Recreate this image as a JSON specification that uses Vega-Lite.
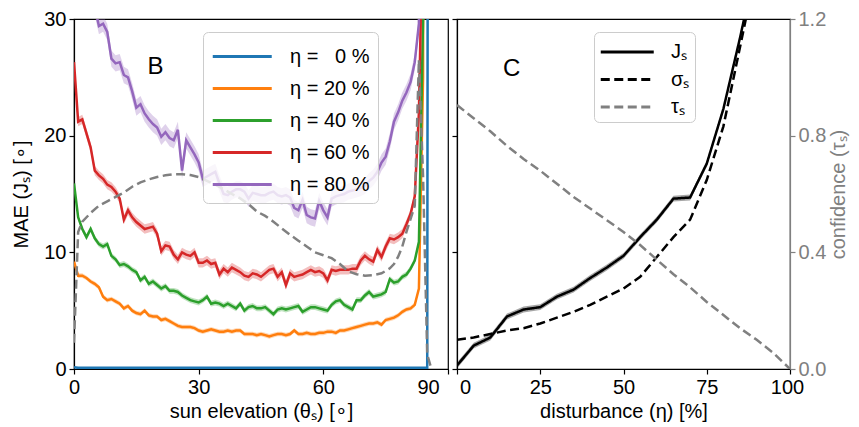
{
  "$schema": "https://vega.github.io/schema/vega-lite/v6.json",
  "padding": {"left": 11, "top": 8, "right": 5, "bottom": 5},
  "config": {
    "font": "Liberation Sans",
    "view": {"stroke": "black", "strokeWidth": 1.2},
    "axis": {"labelFontSize": 20, "titleFontSize": 20, "titleFontWeight": "normal", "labelColor": "black", "titleColor": "black", "tickColor": "black", "domainColor": "black", "tickSize": 5, "grid": false, "labelPadding": 3, "domainWidth": 1.2, "tickWidth": 1.2, "labelFont": "Liberation Sans", "titleFont": "Liberation Sans", "labelFlush": false},
    "legend": {"labelFont": "Liberation Sans"}
  },
  "datasets": {
    "err": [{"k":"b","d":0.05},{"k":"o","d":0.2},{"k":"g","d":0.25},{"k":"r","d":0.4},{"k":"p","d":0.7},{"k":"J","d":0.25}],
    "B": [
      {"t":0,"b":0.15,"o":9.2,"g":15.9,"r":26.3,"p":45},
      {"t":1,"b":0.1,"o":8.0,"g":13.0,"r":21.2,"p":42},
      {"t":2,"b":0.1,"o":8.0,"g":12.0,"r":21.4,"p":39},
      {"t":3,"b":0.1,"o":7.8,"g":11.3,"r":20.2,"p":36},
      {"t":4,"b":0.1,"o":7.5,"g":12.0,"r":19.0,"p":33.5},
      {"t":5,"b":0.1,"o":7.3,"g":11.2,"r":17.0,"p":31},
      {"t":6,"b":0.1,"o":7.0,"g":10.7,"r":16.6,"p":29.4},
      {"t":7,"b":0.1,"o":6.2,"g":10.5,"r":16.3,"p":29.6},
      {"t":8,"b":0.1,"o":5.9,"g":10.7,"r":15.8,"p":28.9},
      {"t":9,"b":0.1,"o":6.0,"g":9.7,"r":15.6,"p":26.6},
      {"t":10,"b":0.1,"o":5.8,"g":9.4,"r":15.2,"p":26.2},
      {"t":11,"b":0.1,"o":5.6,"g":8.9,"r":14.6,"p":26.3},
      {"t":12,"b":0.1,"o":5.2,"g":9.0,"r":12.8,"p":25.2},
      {"t":13,"b":0.1,"o":5.4,"g":8.8,"r":13.6,"p":25.0},
      {"t":14,"b":0.1,"o":5.0,"g":8.5,"r":13.0,"p":23.8},
      {"t":15,"b":0.1,"o":4.8,"g":8.3,"r":12.6,"p":22.4},
      {"t":16,"b":0.1,"o":4.7,"g":7.6,"r":12.3,"p":22.7},
      {"t":17,"b":0.1,"o":5.0,"g":7.9,"r":12.0,"p":21.9},
      {"t":18,"b":0.1,"o":4.6,"g":7.3,"r":12.1,"p":21.4},
      {"t":19,"b":0.1,"o":4.5,"g":7.5,"r":12.2,"p":21.0},
      {"t":20,"b":0.1,"o":4.5,"g":7.2,"r":11.6,"p":20.7},
      {"t":21,"b":0.1,"o":4.2,"g":6.9,"r":10.1,"p":19.9},
      {"t":22,"b":0.1,"o":4.3,"g":7.1,"r":10.6,"p":20.3},
      {"t":23,"b":0.1,"o":4.1,"g":6.7,"r":10.5,"p":19.8},
      {"t":24,"b":0.1,"o":3.9,"g":6.7,"r":9.8,"p":19.6},
      {"t":25,"b":0.1,"o":3.7,"g":6.6,"r":9.4,"p":20.5},
      {"t":26,"b":0.1,"o":3.6,"g":6.3,"r":10.0,"p":17.0},
      {"t":27,"b":0.1,"o":3.6,"g":6.1,"r":9.8,"p":19.6},
      {"t":28,"b":0.1,"o":3.6,"g":5.9,"r":9.7,"p":19.0},
      {"t":29,"b":0.1,"o":3.5,"g":5.8,"r":10.0,"p":18.4},
      {"t":30,"b":0.1,"o":3.3,"g":5.7,"r":9.1,"p":17.7},
      {"t":31,"b":0.1,"o":3.2,"g":5.9,"r":9.1,"p":16.3},
      {"t":32,"b":0.1,"o":3.3,"g":6.2,"r":9.3,"p":16.5},
      {"t":33,"b":0.1,"o":3.4,"g":5.6,"r":9.0,"p":16.7},
      {"t":34,"b":0.1,"o":3.3,"g":5.7,"r":9.1,"p":16.9},
      {"t":35,"b":0.1,"o":3.2,"g":5.6,"r":8.1,"p":15.9},
      {"t":36,"b":0.1,"o":3.2,"g":5.4,"r":8.6,"p":15.0},
      {"t":37,"b":0.1,"o":3.3,"g":5.6,"r":8.3,"p":14.9},
      {"t":38,"b":0.1,"o":3.2,"g":5.4,"r":8.7,"p":15.2},
      {"t":39,"b":0.1,"o":3.3,"g":5.2,"r":8.5,"p":15.4},
      {"t":40,"b":0.1,"o":3.3,"g":5.6,"r":8.3,"p":15.4},
      {"t":41,"b":0.1,"o":3.0,"g":5.0,"r":8.0,"p":15.2},
      {"t":42,"b":0.1,"o":3.0,"g":5.3,"r":7.9,"p":14.6},
      {"t":43,"b":0.1,"o":3.0,"g":5.4,"r":8.2,"p":15.1},
      {"t":44,"b":0.1,"o":2.9,"g":5.2,"r":8.1,"p":15.0},
      {"t":45,"b":0.1,"o":3.0,"g":5.2,"r":7.9,"p":14.9},
      {"t":46,"b":0.1,"o":2.9,"g":5.3,"r":8.2,"p":14.9},
      {"t":47,"b":0.1,"o":2.8,"g":5.0,"r":8.5,"p":15.1},
      {"t":48,"b":0.1,"o":2.9,"g":4.7,"r":8.6,"p":15.2},
      {"t":49,"b":0.1,"o":3.0,"g":5.1,"r":7.9,"p":14.9},
      {"t":50,"b":0.1,"o":3.0,"g":5.2,"r":8.3,"p":14.8},
      {"t":51,"b":0.1,"o":2.9,"g":5.1,"r":7.2,"p":14.9},
      {"t":52,"b":0.1,"o":3.0,"g":5.2,"r":8.2,"p":14.7},
      {"t":53,"b":0.1,"o":3.3,"g":5.3,"r":7.9,"p":13.8},
      {"t":54,"b":0.1,"o":3.0,"g":5.4,"r":8.0,"p":13.6},
      {"t":55,"b":0.1,"o":3.0,"g":4.9,"r":8.1,"p":14.5},
      {"t":56,"b":0.1,"o":3.1,"g":5.1,"r":8.3,"p":13.2},
      {"t":57,"b":0.1,"o":3.0,"g":5.3,"r":8.5,"p":13.0},
      {"t":58,"b":0.1,"o":3.0,"g":5.3,"r":8.3,"p":12.9},
      {"t":59,"b":0.1,"o":3.1,"g":5.2,"r":8.4,"p":14.4},
      {"t":60,"b":0.1,"o":3.1,"g":5.1,"r":8.2,"p":13.6},
      {"t":61,"b":0.1,"o":3.2,"g":5.0,"r":7.6,"p":13.0},
      {"t":62,"b":0.1,"o":3.2,"g":5.5,"r":8.5,"p":14.6},
      {"t":63,"b":0.1,"o":3.1,"g":5.8,"r":8.4,"p":14.8},
      {"t":64,"b":0.1,"o":3.3,"g":5.9,"r":8.5,"p":14.9},
      {"t":65,"b":0.1,"o":3.3,"g":5.5,"r":8.5,"p":15.0},
      {"t":66,"b":0.1,"o":3.4,"g":5.3,"r":8.5,"p":15.2},
      {"t":67,"b":0.1,"o":3.5,"g":5.1,"r":8.6,"p":15.3},
      {"t":68,"b":0.1,"o":3.6,"g":5.9,"r":8.6,"p":15.4},
      {"t":69,"b":0.1,"o":3.7,"g":5.9,"r":9.3,"p":15.5},
      {"t":70,"b":0.1,"o":3.8,"g":6.3,"r":9.7,"p":15.7},
      {"t":71,"b":0.1,"o":3.9,"g":6.6,"r":9.4,"p":16.1},
      {"t":72,"b":0.1,"o":3.9,"g":6.2,"r":9.2,"p":16.4},
      {"t":73,"b":0.1,"o":4.0,"g":6.3,"r":10.2,"p":16.9},
      {"t":74,"b":0.1,"o":3.8,"g":6.4,"r":9.6,"p":17.7},
      {"t":75,"b":0.1,"o":4.2,"g":6.6,"r":10.5,"p":18.2},
      {"t":76,"b":0.1,"o":4.3,"g":7.7,"r":11.2,"p":19.5},
      {"t":77,"b":0.1,"o":4.4,"g":7.4,"r":11.1,"p":21.2},
      {"t":78,"b":0.1,"o":4.6,"g":7.5,"r":11.3,"p":22.0},
      {"t":79,"b":0.1,"o":4.9,"g":7.9,"r":11.6,"p":23.0},
      {"t":80,"b":0.1,"o":5.1,"g":8.1,"r":12.4,"p":23.7},
      {"t":81,"b":0.1,"o":5.2,"g":8.6,"r":13.3,"p":24.6},
      {"t":82,"b":0.1,"o":5.5,"g":9.3,"r":14.8,"p":26.3},
      {"t":83,"b":0.1,"o":6.9,"g":10.9,"r":22,"p":29.6},
      {"t":84,"b":0.1,"o":25,"g":30,"r":40,"p":300},
      {"t":85,"b":0.1,"o":300,"g":300,"r":300,"p":null},
      {"t":86,"b":300,"o":null,"g":null,"r":null,"p":null}
    ],
    "conf": [
      {"t":0,"c":0.09},{"t":1,"c":0.47},{"t":2,"c":0.505},{"t":4,"c":0.535},{"t":6,"c":0.56},
      {"t":8,"c":0.575},{"t":10,"c":0.59},{"t":12,"c":0.605},{"t":14,"c":0.625},{"t":16,"c":0.64},
      {"t":18,"c":0.65},{"t":20,"c":0.658},{"t":22,"c":0.664},{"t":24,"c":0.668},{"t":26,"c":0.668},
      {"t":28,"c":0.665},{"t":30,"c":0.658},{"t":32,"c":0.645},{"t":34,"c":0.632},{"t":36,"c":0.617},
      {"t":38,"c":0.6},{"t":40,"c":0.585},{"t":42,"c":0.565},{"t":44,"c":0.54},{"t":46,"c":0.525},
      {"t":48,"c":0.505},{"t":50,"c":0.482},{"t":52,"c":0.46},{"t":54,"c":0.44},{"t":56,"c":0.42},
      {"t":58,"c":0.4},{"t":60,"c":0.39},{"t":62,"c":0.38},{"t":64,"c":0.36},{"t":66,"c":0.335},
      {"t":68,"c":0.325},{"t":70,"c":0.32},{"t":72,"c":0.322},{"t":74,"c":0.328},{"t":76,"c":0.345},
      {"t":77,"c":0.36},{"t":78,"c":0.385},{"t":79,"c":0.42},{"t":80,"c":0.47},{"t":81,"c":0.515},
      {"t":82,"c":0.56},{"t":83,"c":1.06},{"t":84,"c":0.66},{"t":85,"c":0.05},{"t":86,"c":0.0}
    ],
    "C": [
      {"n":0,"J":0.3,"S":2.5,"T":0.905},
      {"n":5,"J":2.0,"S":2.7,"T":0.86},
      {"n":10,"J":2.7,"S":3.0,"T":0.815},
      {"n":15,"J":4.5,"S":3.3,"T":0.765},
      {"n":20,"J":5.1,"S":3.5,"T":0.72},
      {"n":25,"J":5.3,"S":3.9,"T":0.68},
      {"n":30,"J":6.2,"S":4.4,"T":0.635},
      {"n":35,"J":6.8,"S":4.9,"T":0.59},
      {"n":40,"J":7.8,"S":5.5,"T":0.55},
      {"n":45,"J":8.7,"S":6.2,"T":0.51},
      {"n":50,"J":9.7,"S":6.9,"T":0.47},
      {"n":55,"J":11.3,"S":7.9,"T":0.425},
      {"n":60,"J":12.8,"S":9.6,"T":0.375},
      {"n":65,"J":14.6,"S":11.3,"T":0.325},
      {"n":70,"J":14.7,"S":12.8,"T":0.28},
      {"n":75,"J":17.6,"S":16.2,"T":0.23},
      {"n":80,"J":22.3,"S":20.8,"T":0.185},
      {"n":85,"J":28.4,"S":27.6,"T":0.14},
      {"n":90,"J":35,"S":34.5,"T":0.1},
      {"n":95,"J":44,"S":43,"T":0.055},
      {"n":100,"J":55,"S":53,"T":0.0}
    ]
  },
  "bounds": "flush",
  "spacing": 9,
  "resolve": {"scale": {"color": "independent", "strokeDash": "independent", "fill": "independent", "x": "independent", "y": "independent"}},
  "hconcat": [
    {
      "width": 374,
      "height": 350,
      "resolve": {"scale": {"y": "independent"}},
      "layer": [
        {
          "layer": [
            {
              "data": {"name": "B"},
              "transform": [
                {"fold": ["b","o","g","r","p"], "as": ["k","v"]},
                {"filter": "datum.v != null"}
              ],
              "mark": {"type": "line", "strokeWidth": 2.5, "clip": true},
              "encoding": {
                "x": {"field": "t", "type": "quantitative", "scale": {"domain": [0, 90]},
                      "axis": {"values": [0,30,60,90], "title": "sun elevation (θₛ) [∘]",
                               "labelOffset": {"condition": {"test": "datum.value == 90", "value": -20}, "value": 0}}},
                "y": {"field": "v", "type": "quantitative", "scale": {"domain": [0, 30]}, "title": "MAE (Jₛ) [∘]",
                      "axis": {"values": [0,10,20,30], "titlePadding": 12}},
                "color": {"field": "k", "type": "nominal",
                          "scale": {"domain": ["b","o","g","r","p"], "range": ["#1f77b4","#ff7f0e","#2ca02c","#d62728","#9467bd"]},
                          "legend": {"orient": "none", "legendX": 129, "legendY": 13, "title": null,
                                     "symbolType": "M-1,0H3", "symbolSize": 870, "symbolStrokeWidth": 3, "symbolOpacity": 1,
                                     "labelFontSize": 20, "labelOffset": 46, "padding": 8, "rowPadding": 5,
                                     "fillColor": "rgba(255,255,255,0.8)", "strokeColor": "#cccccc", "cornerRadius": 5,
                                     "labelExpr": "{'b':'η = \u20070 %','o':'η = 20 %','g':'η = 40 %','r':'η = 60 %','p':'η = 80 %'}[datum.value]"}}
              }
            },
            {
              "data": {"name": "B"},
              "transform": [
                {"fold": ["b","o","g","r","p"], "as": ["k","v"]},
                {"filter": "datum.v != null"},
                {"lookup": "k", "from": {"data": {"name": "err"}, "key": "k", "fields": ["d"]}}
              ],
              "mark": {"type": "errorband", "clip": true, "opacity": 0.3},
              "encoding": {
                "x": {"field": "t", "type": "quantitative"},
                "y": {"field": "v", "type": "quantitative", "title": "MAE (Jₛ) [∘]"},
                "yError": {"field": "d"},
                "fill": {"field": "k", "type": "nominal", "legend": null,
                         "scale": {"domain": ["b","o","g","r","p"], "range": ["#1f77b4","#ff7f0e","#2ca02c","#d62728","#9467bd"]}}
              }
            },
            {
              "data": {"values": [{}]},
              "mark": {"type": "text", "text": "B", "fontSize": 24, "font": "Liberation Sans", "align": "center", "baseline": "middle"},
              "encoding": {"x": {"datum": 19.6}, "y": {"datum": 25.9}}
            }
          ]
        },
        {
          "data": {"name": "conf"},
          "mark": {"type": "line", "color": "#808080", "strokeDash": [9, 4.5], "strokeWidth": 2.5, "clip": true},
          "encoding": {
            "x": {"field": "t", "type": "quantitative"},
            "y": {"field": "c", "type": "quantitative", "scale": {"domain": [0, 1.2]}, "axis": null}
          }
        }
      ]
    },
    {
      "width": 333,
      "height": 350,
      "resolve": {"scale": {"y": "independent"}},
      "layer": [
        {
          "layer": [
            {
              "data": {"name": "C"},
              "transform": [{"fold": ["J","S"], "as": ["k","v"]}],
              "mark": {"type": "line", "strokeWidth": 2.5, "clip": true},
              "encoding": {
                "x": {"field": "n", "type": "quantitative", "scale": {"domain": [0, 100]},
                      "axis": {"values": [0,25,50,75,100], "title": "disturbance (η) [%]",
                               "labelOffset": {"condition": [{"test": "datum.value == 0", "value": 8}, {"test": "datum.value == 100", "value": -3}], "value": 0}}},
                "y": {"field": "v", "type": "quantitative", "scale": {"domain": [0, 30]}, "title": null,
                      "axis": {"values": [0,10,20,30], "labels": false, "title": null}},
                "color": {"field": "k", "type": "nominal",
                          "scale": {"domain": ["J","S","T"], "range": ["black","black","#808080"]},
                          "legend": {"orient": "none", "legendX": 137, "legendY": 13, "title": null,
                                     "symbolType": "M-1,0H3", "symbolSize": 702, "symbolStrokeWidth": 3, "symbolOpacity": 1,
                                     "labelFontSize": 20, "labelOffset": 42, "padding": 5, "rowPadding": 2.5,
                                     "fillColor": "rgba(255,255,255,0.8)", "strokeColor": "#cccccc", "cornerRadius": 5,
                                     "labelExpr": "{'J':'Jₛ','S':'σₛ','T':'τₛ'}[datum.value]"}},
                "strokeDash": {"field": "k", "type": "nominal",
                               "scale": {"domain": ["J","S","T"], "range": [[1,0],[9,4.5],[9,4.5]]},
                               "legend": {"orient": "none", "legendX": 137, "legendY": 13, "title": null,
                                     "symbolType": "M-1,0H3", "symbolSize": 702, "symbolStrokeWidth": 3, "symbolOpacity": 1,
                                     "labelFontSize": 20, "labelOffset": 42, "padding": 5, "rowPadding": 2.5,
                                     "fillColor": "rgba(255,255,255,0.8)", "strokeColor": "#cccccc", "cornerRadius": 5,
                                     "labelExpr": "{'J':'Jₛ','S':'σₛ','T':'τₛ'}[datum.value]"}}
              }
            },
            {
              "data": {"name": "C"},
              "transform": [
                {"fold": ["J"], "as": ["k","v"]},
                {"lookup": "k", "from": {"data": {"name": "err"}, "key": "k", "fields": ["d"]}}
              ],
              "mark": {"type": "errorband", "clip": true, "opacity": 0.35},
              "encoding": {
                "x": {"field": "n", "type": "quantitative"},
                "y": {"field": "v", "type": "quantitative", "title": null},
                "yError": {"field": "d"},
                "fill": {"field": "k", "type": "nominal", "legend": null, "scale": {"domain": ["J"], "range": ["black"]}}
              }
            },
            {
              "data": {"values": [{}]},
              "mark": {"type": "text", "text": "C", "fontSize": 24, "font": "Liberation Sans", "align": "center", "baseline": "middle"},
              "encoding": {"x": {"datum": 16.4}, "y": {"datum": 25.7}}
            }
          ]
        },
        {
          "data": {"name": "C"},
          "transform": [{"fold": ["T"], "as": ["k","v"]}],
          "mark": {"type": "line", "strokeWidth": 2.5, "clip": true},
          "encoding": {
            "x": {"field": "n", "type": "quantitative"},
            "y": {"field": "v", "type": "quantitative", "scale": {"domain": [0, 1.2]},
                  "axis": {"orient": "right", "values": [0,0.4,0.8,1.2], "format": ".1f", "title": "confidence (τₛ)",
                           "titleAngle": 270, "titleX": 48, "titleY": 175, "titleAlign": "center", "titleBaseline": "middle",
                           "labelColor": "#808080", "titleColor": "#808080", "tickColor": "#808080", "domainColor": "#808080"}},
            "color": {"field": "k", "type": "nominal"},
            "strokeDash": {"field": "k", "type": "nominal"}
          }
        }
      ]
    }
  ]
}
